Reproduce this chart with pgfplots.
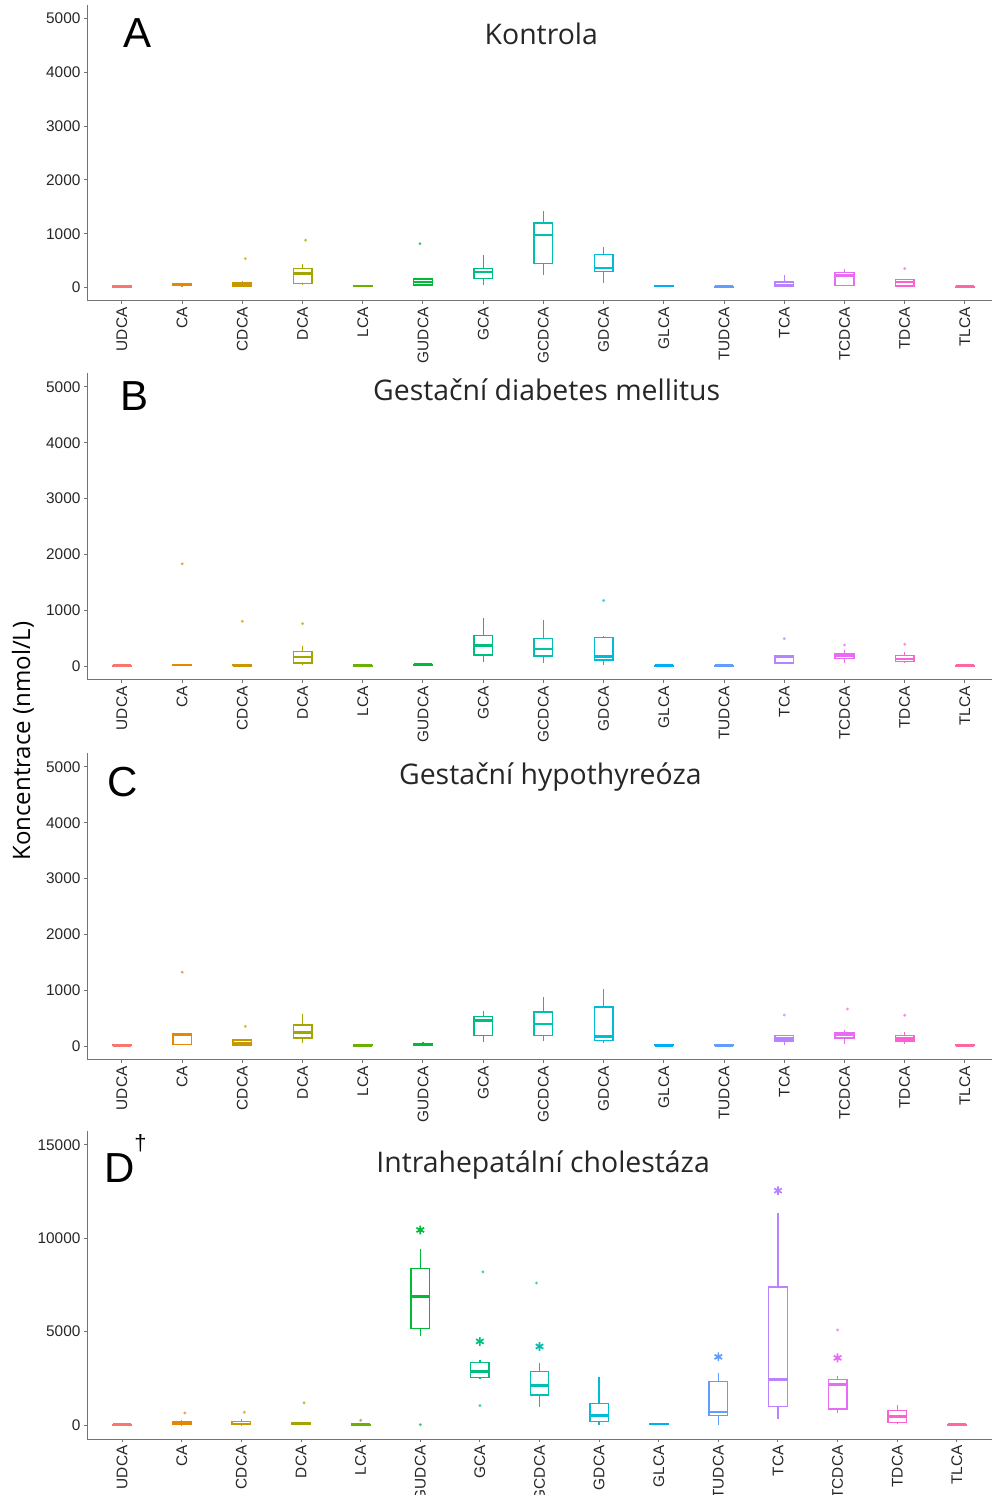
\documentclass[border=0pt]{standalone}
\usepackage{fontspec}
\setmainfont{Liberation Sans}
\newfontfamily\titlefont{Open Sans}
\usepackage{pgfplots}
\pgfplotsset{compat=1.18}

\definecolor{c1}{HTML}{F8766D}
\definecolor{c2}{HTML}{E58700}
\definecolor{c3}{HTML}{C99800}
\definecolor{c4}{HTML}{A3A500}
\definecolor{c5}{HTML}{6BB100}
\definecolor{c6}{HTML}{00BA38}
\definecolor{c7}{HTML}{00BF7D}
\definecolor{c8}{HTML}{00C0AF}
\definecolor{c9}{HTML}{00BCD8}
\definecolor{c10}{HTML}{00B0F6}
\definecolor{c11}{HTML}{619CFF}
\definecolor{c12}{HTML}{B983FF}
\definecolor{c13}{HTML}{E76BF3}
\definecolor{c14}{HTML}{FD61D1}
\definecolor{c15}{HTML}{FF67A4}

\newcommand{\ticks}{\fontsize{7.7}{9}\selectfont}
% box: #1 position, #2 colour, #3 lower whisker, #4 Q1, #5 median, #6 Q3, #7 upper whisker
\newcommand{\bx}[7]{%
  \pgfmathsetmacro{\xl}{#1-0.155}\pgfmathsetmacro{\xr}{#1+0.155}%
  \edef\tmpplot{%
    \noexpand\addplot[draw=#2, line width=0.7pt] coordinates {(#1,#3) (#1,#4)};
    \noexpand\addplot[draw=#2, line width=0.7pt] coordinates {(#1,#6) (#1,#7)};
    \noexpand\addplot[draw=#2, line width=0.7pt, line cap=rect, line join=miter] coordinates {(\xl,#4) (\xr,#4) (\xr,#6) (\xl,#6) (\xl,#4)};
    \noexpand\addplot[draw=#2, line width=1.3pt] coordinates {(\xl,#5) (\xr,#5)};
  }\tmpplot}
\newcommand{\ol}[3]{\addplot[only marks, mark=*, mark size=0.55pt, color=#3, opacity=0.55] coordinates {(#1,#2)};}
\newcommand{\st}[3]{\addplot[only marks, mark=asterisk, mark size=2.2pt, color=#3, line width=0.85pt] coordinates {(#1,#2)};}

\pgfplotsset{
  panel/.style={
    scale only axis, width=452.5pt,
    axis x line*=bottom, axis y line*=left,
    axis line style={black!55, line width=0.5pt},
    tick style={black!55, line width=0.5pt},
    tick align=outside, major tick length=1.6pt,
    xmin=0.42, xmax=15.45,
    xtick={1,...,15},
    xticklabels={UDCA,CA,CDCA,DCA,LCA,GUDCA,GCA,GCDCA,GDCA,GLCA,TUDCA,TCA,TCDCA,TDCA,TLCA},
    xticklabel style={rotate=90, anchor=east, font=\ticks, text=black!85, inner sep=1.5pt},
    yticklabel style={font=\ticks, text=black!85, inner sep=1.5pt},
    /pgf/number format/assume math mode=true,
    /pgf/number format/set thousands separator={},
    scaled y ticks=false,
    clip=false,
    anchor=south west,
  },
}
\tikzset{
  ptitle/.style={font=\titlefont\fontsize{14.2}{16}\selectfont, text=black!85, anchor=base, inner sep=0pt},
  pletter/.style={font=\fontsize{21}{24}\selectfont, anchor=base, inner sep=0pt},
}

\begin{document}
\begin{tikzpicture}
\path[use as bounding box] (0pt,0pt) rectangle (496pt,747.5pt);

% ---------------- A: Kontrola
\begin{axis}[panel, at={(43.5pt,597pt)}, height=148pt,
  ymin=-250, ymax=5250, ytick={0,1000,2000,3000,4000,5000}]
\bx{1}{c1}{0}{8}{15}{25}{40}
\bx{2}{c2}{20}{35}{50}{65}{80}
\bx{3}{c3}{10}{25}{60}{90}{120}
\bx{4}{c4}{50}{80}{265}{350}{445}
\bx{5}{c5}{10}{20}{28}{35}{45}
\bx{6}{c6}{30}{50}{105}{155}{165}
\bx{7}{c7}{50}{167}{290}{358}{605}
\bx{8}{c8}{240}{444}{975}{1198}{1420}
\bx{9}{c9}{93}{296}{364}{611}{747}
\bx{10}{c10}{15}{22}{30}{38}{45}
\bx{11}{c11}{5}{12}{18}{24}{30}
\bx{12}{c12}{15}{20}{50}{105}{228}
\bx{13}{c13}{30}{43}{222}{284}{352}
\bx{14}{c14}{25}{30}{105}{154}{165}
\bx{15}{c15}{5}{12}{18}{24}{30}
\ol{3.05}{537}{c3}
\ol{4.05}{880}{c4}
\ol{5.95}{815}{c6}
\ol{14}{352}{c14}
\node[ptitle] at (rel axis cs:0.502,0.868) {Kontrola};
\node[pletter] at (rel axis cs:0.056,0.855) {A};
\end{axis}

% ---------------- B: GDM
\begin{axis}[panel, at={(43.5pt,407.5pt)}, height=153.5pt,
  ymin=-250, ymax=5250, ytick={0,1000,2000,3000,4000,5000}]
\bx{1}{c1}{0}{3}{5}{8}{12}
\bx{2}{c2}{5}{10}{18}{26}{35}
\bx{3}{c3}{3}{7}{12}{18}{25}
\bx{4}{c4}{12}{54}{162}{263}{365}
\bx{5}{c5}{0}{3}{6}{10}{15}
\bx{6}{c6}{10}{18}{24}{32}{45}
\bx{7}{c7}{78}{198}{365}{545}{862}
\bx{8}{c8}{54}{180}{305}{497}{832}
\bx{9}{c9}{24}{108}{174}{509}{545}
\bx{10}{c10}{0}{3}{6}{10}{15}
\bx{11}{c11}{0}{3}{6}{10}{15}
\bx{12}{c12}{35}{54}{170}{186}{190}
\bx{13}{c13}{54}{138}{186}{222}{293}
\bx{14}{c14}{54}{84}{126}{186}{246}
\bx{15}{c15}{0}{3}{6}{10}{15}
\ol{2}{1832}{c2}
\ol{3}{802}{c3}
\ol{4}{760}{c4}
\ol{9}{1174}{c9}
\ol{12}{491}{c12}
\ol{13}{377}{c13}
\ol{14}{390}{c14}
\node[ptitle] at (rel axis cs:0.508,0.912) {Gestační diabetes mellitus};
\node[pletter] at (rel axis cs:0.053,0.879) {B};
\end{axis}

% ---------------- C: hypothyreoza
\begin{axis}[panel, at={(43.5pt,217.5pt)}, height=153.5pt,
  ymin=-250, ymax=5250, ytick={0,1000,2000,3000,4000,5000}]
\bx{1}{c1}{0}{5}{12}{18}{25}
\bx{2}{c2}{12}{30}{198}{216}{234}
\bx{3}{c3}{5}{12}{42}{108}{126}
\bx{4}{c4}{54}{144}{246}{377}{575}
\bx{5}{c5}{0}{5}{12}{18}{25}
\bx{6}{c6}{10}{18}{24}{35}{66}
\bx{7}{c7}{66}{186}{461}{533}{635}
\bx{8}{c8}{84}{192}{395}{611}{880}
\bx{9}{c9}{54}{102}{174}{700}{1030}
\bx{10}{c10}{0}{5}{12}{18}{25}
\bx{11}{c11}{0}{5}{12}{18}{25}
\bx{12}{c12}{18}{90}{138}{192}{204}
\bx{13}{c13}{30}{144}{204}{246}{281}
\bx{14}{c14}{42}{90}{138}{192}{246}
\bx{15}{c15}{0}{5}{12}{18}{25}
\ol{2}{1323}{c2}
\ol{3.05}{353}{c3}
\ol{12}{557}{c12}
\ol{13.05}{665}{c13}
\ol{14}{551}{c14}
\node[ptitle] at (rel axis cs:0.512,0.896) {Gestační hypothyreóza};
\node[pletter] at (rel axis cs:0.039,0.857) {C};
\end{axis}

% ---------------- D: ICP
\begin{axis}[panel, at={(43.5pt,28pt)}, height=154pt,
  xmin=0.41, xmax=15.59,
  ymin=-750, ymax=15750, ytick={0,5000,10000,15000}]
\bx{1}{c1}{0}{10}{18}{28}{40}
\bx{2}{c2}{0}{20}{90}{162}{252}
\bx{3}{c3}{0}{20}{54}{198}{324}
\bx{4}{c4}{0}{40}{72}{126}{162}
\bx{5}{c5}{0}{10}{18}{30}{60}
\bx{6}{c6}{4784}{5180}{6870}{8381}{9424}
\bx{7}{c7}{2446}{2536}{2878}{3345}{3489}
\bx{8}{c8}{971}{1601}{2122}{2860}{3345}
\bx{9}{c9}{0}{180}{504}{1151}{2590}
\bx{10}{c10}{10}{30}{54}{80}{100}
\bx{11}{c11}{0}{522}{701}{2320}{2770}
\bx{12}{c12}{324}{989}{2446}{7392}{11331}
\bx{13}{c13}{647}{863}{2158}{2446}{2626}
\bx{14}{c14}{36}{144}{468}{791}{1097}
\bx{15}{c15}{0}{10}{18}{28}{40}
\ol{2.05}{647}{c2}
\ol{3.05}{683}{c3}
\ol{4.05}{1187}{c4}
\ol{5}{252}{c5}
\ol{6}{18}{c6}
\ol{7.05}{8201}{c7}
\ol{7}{1043}{c7}
\ol{7.95}{7608}{c8}
\ol{13}{5090}{c13}
\st{6}{10450}{c6}
\st{7}{4478}{c7}
\st{8}{4209}{c8}
\st{11}{3651}{c11}
\st{12}{12554}{c12}
\st{13}{3597}{c13}
\node[ptitle] at (rel axis cs:0.504,0.864) {Intrahepatální cholestáza};
\node[pletter] at (rel axis cs:0.036,0.834) {D};
\node[font=\fontsize{11}{12}\selectfont, inner sep=0pt] at (rel axis cs:0.059,0.96) {†};
\end{axis}

\node[rotate=90, font=\titlefont\fontsize{12}{14}\selectfont, text=black] at (11.5pt,377pt) {Koncentrace (nmol/L)};
\end{tikzpicture}
\end{document}
